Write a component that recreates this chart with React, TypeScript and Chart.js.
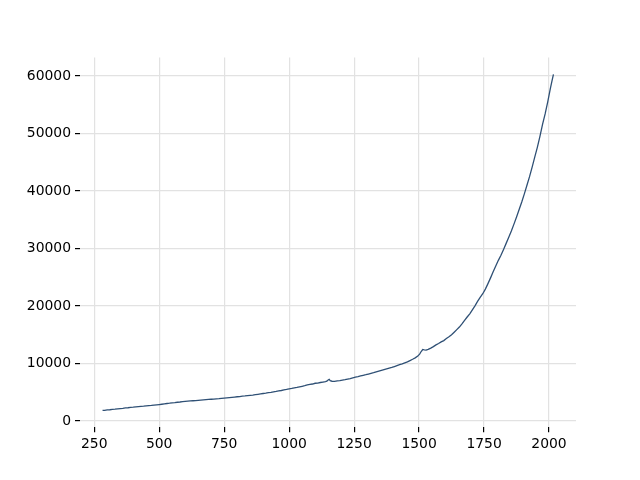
import React, { useEffect, useRef } from "react";
import { Chart, registerables } from "chart.js";

Chart.register(...registerables);

const years = [
  282, 290, 300, 310, 320, 330, 340, 350, 360, 370, 380, 390, 400, 410, 420, 430, 440, 450, 460, 470,
  480, 490, 500, 510, 520, 530, 540, 550, 560, 570, 580, 590, 600, 610, 620, 630, 640, 650, 660, 670,
  680, 690, 700, 710, 720, 730, 740, 750, 760, 770, 780, 790, 800, 810, 820, 830, 840, 850, 860, 870,
  880, 890, 900, 910, 920, 930, 940, 950, 960, 970, 980, 990, 1000, 1010, 1020, 1030, 1040, 1050, 1060, 1070,
  1080, 1090, 1100, 1110, 1120, 1130, 1140, 1145, 1150, 1154, 1158, 1165, 1175, 1185, 1195, 1205, 1215, 1225, 1235, 1245,
  1255, 1265, 1275, 1285, 1295, 1305, 1315, 1325, 1335, 1345, 1355, 1365, 1375, 1385, 1395, 1405, 1415, 1425, 1435, 1445,
  1455, 1465, 1475, 1485, 1495, 1502, 1508, 1514, 1520, 1527, 1535, 1545, 1555, 1565, 1575, 1585, 1595, 1605, 1615, 1625,
  1635, 1645, 1655, 1665, 1675, 1685, 1695, 1705, 1715, 1725, 1735, 1745, 1755, 1765, 1775, 1785, 1795, 1805, 1815, 1825,
  1835, 1845, 1855, 1865, 1875, 1885, 1895, 1905, 1915, 1925, 1935, 1945, 1955, 1965, 1975, 1985, 1995, 2005, 2012, 2017,
];

const values = [
  1860, 1880, 1950, 1975, 2040, 2070, 2130, 2180, 2220, 2290, 2320, 2390, 2420, 2470, 2510, 2560, 2590, 2640, 2690, 2730,
  2790, 2830, 2880, 2930, 2990, 3060, 3110, 3180, 3220, 3280, 3320, 3380, 3420, 3460, 3500, 3540, 3570, 3610, 3650, 3680,
  3720, 3760, 3800, 3830, 3880, 3910, 3960, 4000, 4040, 4090, 4140, 4180, 4230, 4270, 4330, 4370, 4430, 4480, 4530, 4600,
  4660, 4730, 4800, 4860, 4940, 5000, 5080, 5150, 5240, 5320, 5420, 5510, 5620, 5680, 5790, 5850, 5960, 6050, 6150, 6280,
  6390, 6450, 6580, 6620, 6710, 6780, 6860, 6950, 7150, 7250, 7020, 6930, 6920, 7000, 7040, 7120, 7200, 7300, 7400, 7530,
  7650, 7740, 7850, 7970, 8060, 8180, 8300, 8420, 8560, 8680, 8810, 8950, 9080, 9200, 9330, 9480, 9640, 9800, 9950, 10120,
  10300, 10520, 10750, 11000, 11300, 11650, 12100, 12450, 12380, 12330, 12480, 12700, 12950, 13250, 13500, 13780, 14000, 14350, 14650, 15000,
  15450, 15900, 16350, 16900, 17500, 18100, 18650, 19350, 20050, 20800, 21500, 22150, 22950, 23900, 24900, 25950, 26950, 27950, 28850, 29850,
  30900, 31950, 33050, 34250, 35500, 36800, 38100, 39500, 41000, 42500, 44150, 45900, 47600, 49500, 51600, 53400, 55500, 57800, 59300, 60280,
];

const xTicks = [250, 500, 750, 1000, 1250, 1500, 1750, 2000];
const yTicks = [0, 10000, 20000, 30000, 40000, 50000, 60000];

export default function App() {
  const ref = useRef<HTMLCanvasElement | null>(null);

  useEffect(() => {
    if (!ref.current) return;
    const xMinD = Math.min(...years);
    const xMaxD = Math.max(...years);
    const yMinD = Math.min(...values);
    const yMaxD = Math.max(...values);
    const xm = (xMaxD - xMinD) * 0.05;
    const ym = (yMaxD - yMinD) * 0.05;
    const font = { family: "'DejaVu Sans', sans-serif", size: 13.9 };
    const gridColor = "#e2e2e2";

    const chart = new Chart(ref.current, {
      type: "line",
      data: {
        datasets: [
          {
            data: years.map((x, i) => ({ x, y: values[i] })),
            borderColor: "#2f5075",
            borderWidth: 1.3,
            pointRadius: 0,
            tension: 0,
            fill: false,
          },
        ],
      },
      options: {
        responsive: false,
        animation: false,
        layout: { padding: { top: 57.6, right: 64, left: 0, bottom: 0 } },
        plugins: { legend: { display: false }, tooltip: { enabled: false } },
        scales: {
          x: {
            type: "linear",
            min: xMinD - xm,
            max: xMaxD + xm,
            afterBuildTicks: (s: any) => {
              s.ticks = xTicks.map((v) => ({ value: v }));
            },
            afterFit: (s: any) => {
              s.height = 52.8;
            },
            border: { display: false },
            grid: { color: gridColor, lineWidth: 1.2, tickColor: "#000", tickLength: 5 },
            ticks: {
              color: "#000",
              font,
              padding: 4,
              maxRotation: 0,
              autoSkip: false,
              callback: (v: any) => String(v),
            },
          },
          y: {
            type: "linear",
            min: yMinD - ym,
            max: yMaxD + ym,
            afterBuildTicks: (s: any) => {
              s.ticks = yTicks.map((v) => ({ value: v }));
            },
            afterFit: (s: any) => {
              s.width = 80;
            },
            border: { display: false },
            grid: { color: gridColor, lineWidth: 1.2, tickColor: "#000", tickLength: 5 },
            ticks: { color: "#000", font, padding: 4, autoSkip: false, callback: (v: any) => String(v) },
          },
        },
      },
    });
    return () => chart.destroy();
  }, []);

  return (
    <div style={{ position: "absolute", left: 0, top: 0, width: 640, height: 480, background: "#fff" }}>
      <canvas ref={ref} width={640} height={480} />
    </div>
  );
}
